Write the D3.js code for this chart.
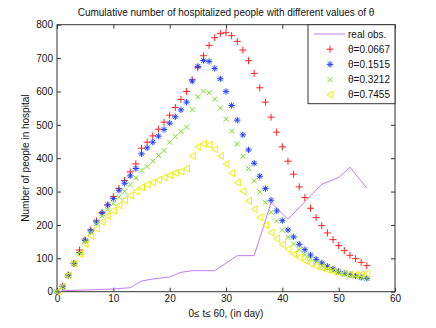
<!DOCTYPE html>
<html>
<head>
<meta charset="utf-8">
<script src="https://cdn.jsdelivr.net/npm/d3@7"></script>
<style>
  body { margin: 0; background: #fff; }
  text { font-family: "Liberation Sans", Arial, sans-serif; }
</style>
</head>
<body>
<div id="chart"></div>
<script>
// cumulative hospitalized people, model runs for several theta vs. observed data

var days = d3.range(0, 56); // model output every day 0..55

var theta0667 = [0, 17, 50, 85, 125, 155, 185, 212, 237, 260, 285, 309, 333, 359, 383, 430, 448, 467, 487, 508,
  529, 552, 576, 600, 635, 671, 707, 738, 761, 774, 776, 767, 750, 724, 692, 654, 611, 568, 523, 478,
  434, 391, 352, 314, 282, 250, 222, 198, 176, 156, 138, 123, 109, 99, 88, 78];
var theta1515 = [0, 15, 49, 84, 117, 154, 182, 209, 235, 260, 279, 304, 325, 347, 369, 413, 431, 448, 466, 486,
  505, 524, 545, 568, 631, 675, 693, 690, 669, 638, 600, 558, 514, 470, 425, 385, 346, 309, 274, 242,
  213, 185, 164, 142, 126, 110, 97, 86, 76, 68, 61, 55, 51, 47, 43, 40];
var theta3212 = [0, 17, 49, 85, 117, 151, 178, 204, 227, 246, 264, 283, 301, 321, 341, 364, 375, 391, 408, 423,
  448, 465, 480, 493, 546, 584, 601, 596, 577, 550, 517, 481, 443, 406, 369, 332, 299, 268, 238, 212,
  185, 163, 143, 126, 111, 99, 88, 78, 70, 63, 57, 52, 48, 45, 42, 40];
var theta7455 = [0, 15, 49, 84, 113, 142, 167, 189, 209, 227, 243, 259, 274, 288, 301, 313, 321, 327, 335, 342,
  349, 356, 360, 369, 407, 434, 443, 440, 427, 407, 383, 355, 327, 301, 272, 247, 223, 199, 177, 159,
  142, 127, 113, 103, 93, 85, 77, 71, 65, 61, 57, 54, 52, 51, 51, 54];

// observed data (line vertices)
var obsDays = [0, 1, 10, 13, 15, 17, 20, 22, 24, 28, 32, 35, 38, 41, 47, 50, 52, 55];
var obsValues = [0, 3, 8, 12, 32, 38, 44, 58, 63, 63, 108, 108, 267, 217, 322, 342, 373, 310];

var xTicks = [0, 10, 20, 30, 40, 50, 60];
var yTicks = [0, 100, 200, 300, 400, 500, 600, 700, 800];

var legendLabels = ['real obs.', '\u03b8=0.0667', '\u03b8=0.1515', '\u03b8=0.3212', '\u03b8=0.7455'];

var width = 436;
var height = 328;
var plotLeft = 57, plotRight = 395, plotTop = 24.7, plotBottom = 291.7;

var obsColor = '#c27af5';
var colors = ['#ff2020', '#2040ff', '#74e01c', '#eeee00'];
var markers = ['plus', 'star', 'cross', 'tri'];

var svg = d3.select('#chart').append('svg')
      .attr('width', width)
      .attr('height', height);

var xScale = d3.scaleLinear().domain([0, 60]).range([plotLeft, plotRight]);
var yScale = d3.scaleLinear().domain([0, 800]).range([plotBottom, plotTop]);

// axes, ticks pointing inward like matlab
var axisColor = '#333';
function styleAxis(g) {
  g.select('.domain').remove();
  g.selectAll('line').attr('stroke', axisColor);
  g.selectAll('text').attr('fill', '#111').style('font-size', '10px');
}

svg.append('g')
      .attr('transform', 'translate(0,' + plotBottom + ')')
      .call(d3.axisBottom(xScale).tickValues(xTicks).tickSizeInner(-4).tickSizeOuter(0).tickPadding(3))
      .call(styleAxis);
svg.append('g')
      .attr('transform', 'translate(0,' + plotTop + ')')
      .call(d3.axisTop(xScale).tickValues(xTicks).tickSizeInner(-4).tickSizeOuter(0).tickFormat(''))
      .call(styleAxis);
svg.append('g')
      .attr('transform', 'translate(' + plotLeft + ',0)')
      .call(d3.axisLeft(yScale).tickValues(yTicks).tickSizeInner(-4).tickSizeOuter(0).tickPadding(4))
      .call(styleAxis);
svg.append('g')
      .attr('transform', 'translate(' + plotRight + ',0)')
      .call(d3.axisRight(yScale).tickValues(yTicks).tickSizeInner(-4).tickSizeOuter(0).tickFormat(''))
      .call(styleAxis);

svg.append('rect')
      .attr('x', plotLeft)
      .attr('y', plotTop)
      .attr('width', plotRight - plotLeft)
      .attr('height', plotBottom - plotTop)
      .attr('fill', 'none')
      .attr('stroke', axisColor);

// marker shapes
function markerPath(type, x, y) {
  if (type == 'plus') {
    var s = 3.5;
    return 'M' + (x - s) + ',' + y + 'H' + (x + s) + 'M' + x + ',' + (y - s) + 'V' + (y + s);
  }
  if (type == 'cross') {
    var c = 2.5;
    return 'M' + (x - c) + ',' + (y - c) + 'L' + (x + c) + ',' + (y + c) +
           'M' + (x - c) + ',' + (y + c) + 'L' + (x + c) + ',' + (y - c);
  }
  if (type == 'star') {
    var a = 3.2, d = 2.3;
    return 'M' + (x - a) + ',' + y + 'H' + (x + a) + 'M' + x + ',' + (y - a) + 'V' + (y + a) +
           'M' + (x - d) + ',' + (y - d) + 'L' + (x + d) + ',' + (y + d) +
           'M' + (x - d) + ',' + (y + d) + 'L' + (x + d) + ',' + (y - d);
  }
  // left pointing triangle
  return 'M' + (x - 3) + ',' + y + 'L' + (x + 3) + ',' + (y - 3.5) + 'L' + (x + 3) + ',' + (y + 3.5) + 'Z';
}

var container = svg.append('g');

// observed line
var line = d3.line()
      .x(d => xScale(d[0]))
      .y(d => yScale(d[1]));
container.append('path')
      .datum(obsDays.map((d, i) => [d, obsValues[i]]))
      .attr('d', line)
      .attr('fill', 'none')
      .attr('stroke', obsColor)
      .attr('stroke-width', 1);

// model series
var series = [theta0667, theta1515, theta3212, theta7455];
series.forEach(function(vals, k) {
  container.append('g').selectAll('path')
        .data(vals.map((v, i) => [days[i], v]))
        .enter()
        .append('path')
        .attr('d', d => markerPath(markers[k], xScale(d[0]), yScale(d[1])))
        .attr('fill', 'none')
        .attr('stroke', colors[k])
        .attr('stroke-width', 1);
});

// legend
var lgX = 308, lgY = plotTop, lgW = plotRight - 308, lgH = 79;
var legend = svg.append('g');
legend.append('rect')
      .attr('x', lgX)
      .attr('y', lgY)
      .attr('width', lgW)
      .attr('height', lgH)
      .attr('fill', '#fff')
      .attr('stroke', axisColor);

legendLabels.forEach(function(lab, i) {
  var y = 34 + i * 15.2;
  if (i == 0) {
    legend.append('line')
          .attr('x1', 314).attr('x2', 345)
          .attr('y1', y).attr('y2', y)
          .attr('stroke', obsColor);
  } else {
    legend.append('path')
          .attr('d', markerPath(markers[i - 1], 330, y))
          .attr('fill', 'none')
          .attr('stroke', colors[i - 1]);
  }
  legend.append('text')
        .attr('x', 348)
        .attr('y', y)
        .attr('dy', '0.35em')
        .style('font-size', '10px')
        .attr('fill', '#111')
        .text(lab);
});

// title and axis labels
svg.append('text')
      .attr('x', (plotLeft + plotRight) / 2)
      .attr('y', 16)
      .style('text-anchor', 'middle')
      .style('font-size', '10px')
      .attr('fill', '#111')
      .text('Cumulative number of hospitalized people with different values of \u03b8');

svg.append('text')
      .attr('x', (plotLeft + plotRight) / 2)
      .attr('y', 317)
      .style('text-anchor', 'middle')
      .style('font-size', '10px')
      .attr('fill', '#111')
      .text('0\u2264 t\u2264 60, (in day)');

svg.append('text')
      .attr('transform', 'rotate(-90)')
      .attr('x', -(plotTop + plotBottom) / 2)
      .attr('y', 29)
      .style('text-anchor', 'middle')
      .style('font-size', '10px')
      .attr('fill', '#111')
      .text('Number of people in hospital');
</script>
</body>
</html>
